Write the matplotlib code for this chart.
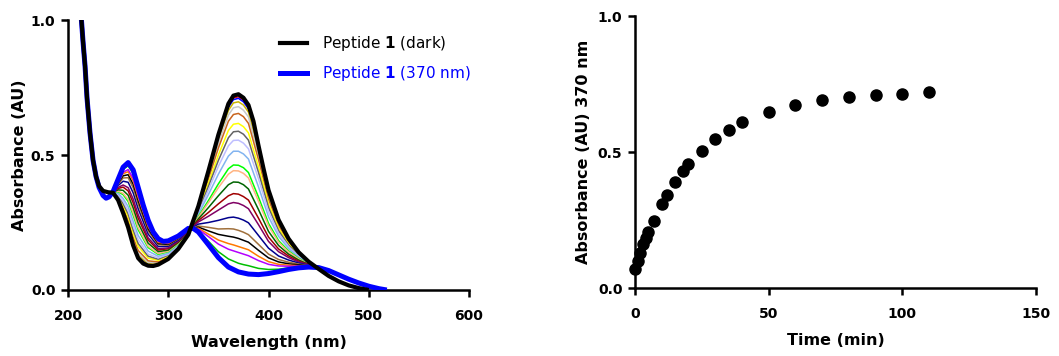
"""UV-vis spectra of peptide 1 during thermal relaxation + kinetics at 370 nm."""

import matplotlib
matplotlib.use("Agg")
import matplotlib.pyplot as plt
from matplotlib.ticker import FormatStrFormatter

plt.rcParams.update({
    "font.family": "DejaVu Sans",
    "font.size": 10,
    "axes.spines.top": False,
    "axes.spines.right": False,
    "axes.linewidth": 1.8,
    "xtick.major.width": 1.8,
    "ytick.major.width": 1.8,
    "xtick.major.size": 5,
    "ytick.major.size": 5,
    "xtick.direction": "out",
    "ytick.direction": "out",
})

# --- Left panel: full spectra of the two end states ---
wl_dark = [213, 215, 217, 219, 222, 225, 228, 231, 235, 240, 245, 250, 255,
           260, 265, 270, 275, 280, 285, 290, 300, 310, 320, 330, 340, 350,
           360, 365, 370, 375, 380, 385, 390, 395, 400, 410, 420, 430, 440,
           450, 460, 470, 480, 490, 500]
abs_dark = [1.02, 0.92, 0.83, 0.71, 0.58, 0.48, 0.42, 0.385, 0.367, 0.362,
            0.36, 0.333, 0.285, 0.232, 0.165, 0.118, 0.098, 0.09, 0.089,
            0.094, 0.115, 0.152, 0.205, 0.31, 0.44, 0.575, 0.69, 0.72,
            0.725, 0.712, 0.685, 0.625, 0.535, 0.45, 0.37, 0.26, 0.19, 0.14,
            0.105, 0.078, 0.052, 0.032, 0.017, 0.007, 0.0]

wl_light = [213, 215, 217, 219, 222, 225, 228, 231, 235, 238, 241, 245, 250,
            255, 260, 265, 270, 275, 280, 285, 290, 295, 300, 310, 320, 325,
            330, 340, 350, 360, 370, 380, 390, 400, 410, 420, 430, 440, 450,
            460, 470, 480, 490, 500, 510, 518]
abs_light = [1.02, 0.92, 0.83, 0.71, 0.58, 0.48, 0.42, 0.38, 0.35, 0.34,
             0.345, 0.365, 0.41, 0.455, 0.472, 0.445, 0.38, 0.315, 0.258,
             0.215, 0.19, 0.18, 0.182, 0.2, 0.228, 0.228, 0.215, 0.168, 0.12,
             0.085, 0.067, 0.059, 0.057, 0.061, 0.068, 0.076, 0.082, 0.085,
             0.083, 0.072, 0.056, 0.04, 0.026, 0.014, 0.005, 0.0]

# --- Intermediate spectra (recorded during relaxation) ---
wl_mid = [245, 250, 255, 260, 265, 270, 280, 290, 300, 310, 320, 330, 340,
          350, 360, 365, 370, 375, 380, 390, 400, 410, 420, 430, 440, 455]

mid_colors = ["#FF0000", "#0000FF", "#C8B400", "#C8C8C8", "#C8641E",
              "#FFFF00", "#646464", "#BEBEFF", "#82B4F0", "#00FF00",
              "#FFB482", "#006400", "#A00000", "#800064", "#00008C",
              "#A0703C", "#000000", "#FF7800", "#B400FF", "#00BE00"]

abs_red = [0.360, 0.334, 0.287, 0.235, 0.169, 0.122, 0.092, 0.095, 0.116,
           0.153, 0.205, 0.309, 0.436, 0.569, 0.682, 0.711, 0.716, 0.703,
           0.676, 0.528, 0.366, 0.257, 0.188, 0.139, 0.105, 0.066]
abs_blue = [0.360, 0.335, 0.289, 0.238, 0.171, 0.124, 0.094, 0.096, 0.117,
            0.153, 0.206, 0.308, 0.434, 0.565, 0.676, 0.705, 0.710, 0.697,
            0.671, 0.524, 0.363, 0.256, 0.187, 0.139, 0.105, 0.066]
abs_olive = [0.360, 0.336, 0.292, 0.242, 0.177, 0.129, 0.097, 0.098, 0.118,
             0.154, 0.206, 0.306, 0.429, 0.556, 0.665, 0.693, 0.697, 0.685,
             0.659, 0.515, 0.357, 0.252, 0.185, 0.138, 0.104, 0.067]
abs_lgray = [0.360, 0.338, 0.297, 0.249, 0.185, 0.136, 0.102, 0.101, 0.120,
             0.155, 0.207, 0.303, 0.421, 0.543, 0.648, 0.675, 0.679, 0.666,
             0.641, 0.502, 0.348, 0.247, 0.182, 0.136, 0.104, 0.067]
abs_choc = [0.361, 0.341, 0.303, 0.258, 0.195, 0.146, 0.108, 0.104, 0.122,
            0.157, 0.207, 0.300, 0.411, 0.526, 0.625, 0.650, 0.654, 0.642,
            0.617, 0.483, 0.337, 0.239, 0.178, 0.134, 0.103, 0.067]
abs_yellow = [0.361, 0.346, 0.313, 0.271, 0.211, 0.161, 0.118, 0.110, 0.126,
              0.160, 0.209, 0.294, 0.395, 0.500, 0.591, 0.614, 0.617, 0.605,
              0.582, 0.457, 0.319, 0.229, 0.171, 0.130, 0.102, 0.068]
abs_dgray = [0.361, 0.349, 0.320, 0.282, 0.223, 0.172, 0.125, 0.114, 0.129,
             0.162, 0.210, 0.290, 0.383, 0.480, 0.564, 0.586, 0.588, 0.577,
             0.555, 0.436, 0.306, 0.220, 0.166, 0.128, 0.101, 0.069]
abs_lav = [0.361, 0.353, 0.329, 0.294, 0.237, 0.186, 0.133, 0.119, 0.132,
           0.164, 0.211, 0.285, 0.370, 0.458, 0.534, 0.554, 0.555, 0.544,
           0.523, 0.412, 0.290, 0.210, 0.161, 0.125, 0.100, 0.069]
abs_lblue = [0.362, 0.358, 0.339, 0.309, 0.255, 0.202, 0.144, 0.125, 0.136,
             0.167, 0.212, 0.280, 0.353, 0.429, 0.496, 0.514, 0.514, 0.504,
             0.485, 0.382, 0.271, 0.199, 0.154, 0.121, 0.099, 0.070]
abs_lime = [0.362, 0.364, 0.353, 0.328, 0.277, 0.223, 0.157, 0.132, 0.142,
            0.171, 0.214, 0.272, 0.331, 0.393, 0.449, 0.463, 0.462, 0.453,
            0.435, 0.344, 0.247, 0.183, 0.145, 0.117, 0.097, 0.071]
abs_peach = [0.362, 0.366, 0.358, 0.335, 0.286, 0.231, 0.162, 0.135, 0.144,
             0.173, 0.215, 0.269, 0.323, 0.379, 0.429, 0.442, 0.441, 0.432,
             0.415, 0.329, 0.237, 0.177, 0.141, 0.115, 0.096, 0.072]
abs_dgreen = [0.362, 0.371, 0.369, 0.351, 0.304, 0.248, 0.173, 0.142, 0.148,
              0.176, 0.216, 0.263, 0.305, 0.349, 0.390, 0.400, 0.399, 0.390,
              0.374, 0.298, 0.217, 0.165, 0.133, 0.111, 0.095, 0.072]
abs_dred = [0.363, 0.376, 0.381, 0.367, 0.323, 0.266, 0.185, 0.148, 0.153,
            0.179, 0.218, 0.257, 0.287, 0.319, 0.349, 0.357, 0.355, 0.346,
            0.333, 0.266, 0.196, 0.152, 0.126, 0.107, 0.094, 0.073]
abs_purple = [0.363, 0.380, 0.389, 0.379, 0.337, 0.279, 0.193, 0.153, 0.156,
              0.181, 0.219, 0.252, 0.273, 0.296, 0.319, 0.324, 0.321, 0.313,
              0.301, 0.242, 0.180, 0.142, 0.120, 0.104, 0.093, 0.074]
abs_navy = [0.363, 0.387, 0.403, 0.399, 0.360, 0.301, 0.207, 0.161, 0.162,
            0.185, 0.221, 0.244, 0.250, 0.258, 0.268, 0.270, 0.266, 0.259,
            0.249, 0.202, 0.155, 0.126, 0.111, 0.100, 0.091, 0.075]
abs_brown = [0.364, 0.392, 0.415, 0.416, 0.379, 0.319, 0.219, 0.168, 0.166,
             0.189, 0.223, 0.237, 0.232, 0.226, 0.227, 0.226, 0.221, 0.214,
             0.205, 0.169, 0.133, 0.113, 0.103, 0.096, 0.090, 0.076]
abs_black = [0.364, 0.396, 0.423, 0.427, 0.392, 0.331, 0.226, 0.172, 0.169,
             0.191, 0.224, 0.233, 0.219, 0.206, 0.199, 0.196, 0.191, 0.184,
             0.177, 0.147, 0.119, 0.104, 0.097, 0.093, 0.089, 0.077]
abs_orange = [0.364, 0.399, 0.431, 0.438, 0.405, 0.343, 0.234, 0.176, 0.172,
              0.193, 0.225, 0.229, 0.207, 0.185, 0.172, 0.167, 0.161, 0.155,
              0.149, 0.125, 0.105, 0.095, 0.092, 0.090, 0.088, 0.077]
abs_violet = [0.364, 0.402, 0.436, 0.446, 0.414, 0.351, 0.240, 0.180, 0.175,
              0.195, 0.225, 0.225, 0.198, 0.170, 0.151, 0.145, 0.139, 0.133,
              0.127, 0.109, 0.095, 0.089, 0.088, 0.088, 0.087, 0.078]
abs_green = [0.365, 0.406, 0.447, 0.460, 0.431, 0.367, 0.250, 0.185, 0.179,
             0.198, 0.227, 0.220, 0.181, 0.142, 0.115, 0.107, 0.099, 0.094,
             0.090, 0.080, 0.076, 0.077, 0.082, 0.085, 0.086, 0.078]

mid_spectra = [abs_red, abs_blue, abs_olive, abs_lgray, abs_choc, abs_yellow,
               abs_dgray, abs_lav, abs_lblue, abs_lime, abs_peach, abs_dgreen,
               abs_dred, abs_purple, abs_navy, abs_brown, abs_black,
               abs_orange, abs_violet, abs_green]

# --- Right panel: absorbance at 370 nm vs time ---
time_min = [0, 1, 2, 3, 4, 5, 7, 10, 12, 15, 18, 20, 25, 30, 35, 40, 50, 60,
            70, 80, 90, 100, 110]
abs_370 = [0.07, 0.10, 0.13, 0.16, 0.185, 0.205, 0.248, 0.309, 0.343, 0.39,
           0.432, 0.455, 0.505, 0.548, 0.581, 0.612, 0.648, 0.674, 0.691,
           0.703, 0.71, 0.715, 0.72]


def style_axis(ax):
    ax.tick_params(axis="x", labelsize=10, pad=9)
    ax.tick_params(axis="y", labelsize=10, pad=4)
    for lab in ax.get_xticklabels() + ax.get_yticklabels():
        lab.set_fontweight("bold")


fig = plt.figure(figsize=(10.59, 3.56), dpi=100)
ax1 = fig.add_axes([0.0642, 0.1854, 0.3787, 0.7584])
ax2 = fig.add_axes([0.5996, 0.191, 0.3787, 0.764])

# Left: spectra
for vals, col in zip(mid_spectra, mid_colors):
    ax1.plot(wl_mid, vals, color=col, linewidth=1.1, zorder=2)
ax1.plot(wl_light, abs_light, color="#0000FF", linewidth=3.6, zorder=3,
         solid_capstyle="butt")
ax1.plot(wl_dark, abs_dark, color="black", linewidth=3.0, zorder=4,
         solid_capstyle="butt")

ax1.set_xlim(200, 600)
ax1.set_ylim(0, 1.0)
ax1.set_xticks([200, 300, 400, 500, 600])
ax1.set_yticks([0, 0.5, 1.0])
ax1.yaxis.set_major_formatter(FormatStrFormatter("%.1f"))
ax1.set_xlabel("Wavelength (nm)", fontweight="bold", fontsize=11.5, labelpad=8)
ax1.set_ylabel("Absorbance (AU)", fontweight="bold", fontsize=11.5, labelpad=3)
style_axis(ax1)

h_dark, = ax1.plot([], [], color="black", linewidth=3.0)
h_light, = ax1.plot([], [], color="#0000FF", linewidth=3.6)
leg = ax1.legend([h_dark, h_light],
                 [r"Peptide $\mathbf{1}$ (dark)", r"Peptide $\mathbf{1}$ (370 nm)"],
                 loc="upper left", bbox_to_anchor=(0.52, 0.96), frameon=False,
                 fontsize=11, handlelength=1.8, handletextpad=1.0,
                 labelspacing=0.75, borderpad=0.2, borderaxespad=0)
leg.get_texts()[1].set_color("#0000FF")

# Right: kinetics
ax2.plot(time_min, abs_370, "o", color="black", markersize=8, clip_on=False)
ax2.set_xlim(0, 150)
ax2.set_ylim(0, 1.0)
ax2.set_xticks([0, 50, 100, 150])
ax2.set_yticks([0, 0.5, 1.0])
ax2.yaxis.set_major_formatter(FormatStrFormatter("%.1f"))
ax2.set_xlabel("Time (min)", fontweight="bold", fontsize=11.5, labelpad=8)
ax2.set_ylabel("Absorbance (AU) 370 nm", fontweight="bold", fontsize=11.5,
               labelpad=5)
style_axis(ax2)

fig.savefig("out.png", dpi=100)
plt.close(fig)
